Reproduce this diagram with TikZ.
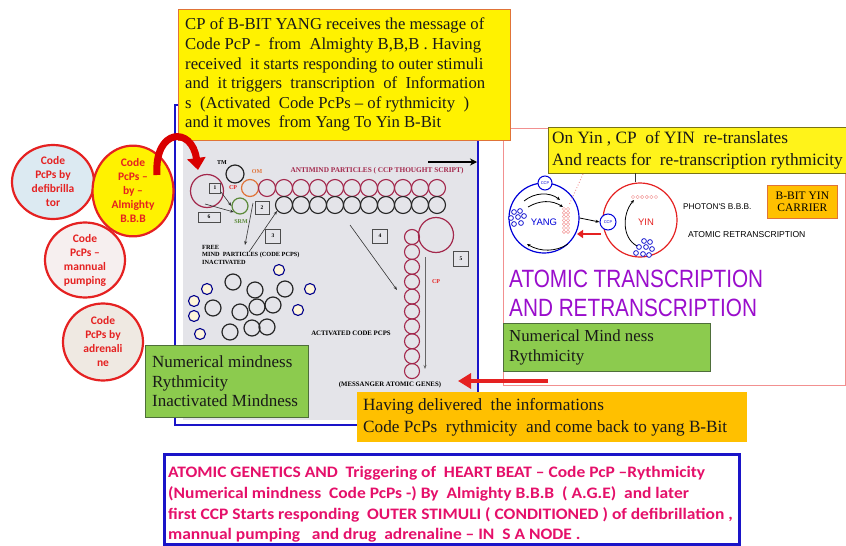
\documentclass[tikz,border=0pt]{standalone}
\usepackage{fontspec}
\usepackage{graphicx}
\setmainfont{Liberation Serif}
\newfontfamily\arialf{Liberation Sans}
\newfontfamily\arialn[FakeStretch=0.83]{Liberation Sans}
\newfontfamily\calib{Carlito}
\newfontfamily\calibw[FakeStretch=1.09]{Carlito}
\usetikzlibrary{arrows.meta,shapes.geometric}
\definecolor{cred}{HTML}{E52121}
\definecolor{fblue}{HTML}{1A14C8}
\definecolor{grayarea}{HTML}{E4E4E9}
\definecolor{maroonc}{HTML}{A3284C}
\definecolor{purp}{HTML}{9A0DCC}
\definecolor{gbox}{HTML}{8CCB4E}
\definecolor{gborder}{HTML}{4E6E3A}
\definecolor{obox}{HTML}{FFC000}
\definecolor{pinkt}{HTML}{E5106A}
\definecolor{pinkb}{HTML}{F29090}
\definecolor{ltblue}{HTML}{DCEAF2}
\definecolor{ltpink}{HTML}{F6EFEF}
\definecolor{beige}{HTML}{EFE9E2}
\definecolor{creamy}{HTML}{FFF6DA}
\definecolor{arrred}{HTML}{D90000}
\definecolor{ombr}{HTML}{E07338}
\definecolor{srmg}{HTML}{5C8A3A}
\tikzset{
  codecirc/.style={ellipse, draw=cred, line width=2.2pt, inner sep=0pt, align=center, text=cred,
    font=\calib\bfseries\fontsize{11.5}{14}\selectfont},
  ybox/.style={draw=ombr, fill=yellow, line width=0.8pt, inner sep=0pt, anchor=north west},
  gboxs/.style={draw=gborder, fill=gbox, line width=0.8pt, inner sep=0pt, anchor=north west},
  oboxs/.style={draw=none, fill=obox, inner sep=0pt, anchor=north west},
  boxtext/.style={anchor=west, align=left, inner sep=0pt, text=black!90},
  numbox/.style={draw=black!70, line width=0.5pt, fill=grayarea, inner sep=0pt,
    font=\fontsize{5.5}{5.5}\selectfont\bfseries},
  tinylbl/.style={font=\fontsize{6}{7}\selectfont\bfseries, inner sep=0pt},
  pring/.style={circle, draw=maroonc, line width=1.1pt, minimum size=17pt, inner sep=0pt},
  bring/.style={circle, draw=black!85, line width=1.1pt, minimum size=17pt, inner sep=0pt},
  sring/.style={circle, draw=blue!55!black, fill=creamy, line width=1.1pt, minimum size=11pt, inner sep=0pt},
  thinarrow/.style={-{Stealth[length=4pt,width=3pt]}, line width=0.6pt, draw=black!80},
  dotc/.style={circle, draw=blue!80!black, fill=white, line width=0.7pt, minimum size=4.8pt, inner sep=0pt},
  pdot/.style={circle, draw=pinkb, line width=0.4pt, minimum size=3.4pt, inner sep=0pt},
  ccpc/.style={circle, draw=blue!85!black, fill=white, line width=1pt, inner sep=0pt,
    text=blue!85!black, font=\arialf\fontsize{4}{4}\selectfont},
}
\begin{document}
\begin{tikzpicture}[x=1pt,y=-1pt]
\useasboundingbox (0,0) rectangle (846,546);
% ---------- central picture ----------
\fill[grayarea] (183,140) rectangle (478,420);
\draw[fblue, line width=2.5pt] (175,105) rectangle (478,425);
% yin-yang frame
\draw[pinkb, line width=1pt, fill=white] (503,128) rectangle (845,385);

% inner picture content
\node[circle, draw=maroonc, line width=1.2pt, minimum size=33pt, inner sep=0pt] (cpc) at (207,191) {};
\node[numbox, minimum width=11pt, minimum height=10pt] (b1) at (215,188) {1};
\node[tinylbl, text=cred] (cplbl) at (233,188) {CP};
\node[tinylbl] (tmlbl) at (222,163) {TM};
\node[circle, draw=black!85, line width=1.2pt, minimum size=18pt, inner sep=0pt] (tm) at (235,174) {};
\node[circle, draw=ombr, line width=1.2pt, minimum size=17pt, inner sep=0pt] (om) at (250,188) {};
\node[tinylbl, text=ombr] (omlbl) at (257,172) {OM};
\foreach \k in {0,...,10} \node[pring] (r\k) at (267+17*\k,188) {};
\foreach \k in {0,...,9} \node[bring] (k\k) at (284+17*\k,205) {};
\node[font=\fontsize{7.3}{8}\selectfont\bfseries, text=maroonc, inner sep=0pt] (antim) at (377,171) {ANTIMIND PARTICLES ( CCP THOUGHT SCRIPT)};
\node[circle, draw=srmg, line width=1.2pt, minimum size=16pt, inner sep=0pt] (srm) at (240,206) {};
\node[tinylbl, text=srmg] (srmlbl) at (241,222) {SRM};
\node[numbox, minimum width=22pt, minimum height=10pt] (b6) at (209,217) {6};
\node[numbox, minimum width=14pt, minimum height=13pt] (b2) at (262,208) {2};
\node[numbox, minimum width=15pt, minimum height=14pt] (b3) at (273,236) {3};
\node[numbox, minimum width=15pt, minimum height=14pt] (b4) at (380,236) {4};
\node[numbox, minimum width=15pt, minimum height=15pt] (b5) at (461,259) {5};
\coordinate (a1s) at (221,192);
\coordinate (a2s) at (205,204);
\draw[thinarrow] (a1s) -- (srm.west);
\draw[thinarrow] (a2s) -- (srm.south west);
\coordinate (f1s) at (253,203);
\coordinate (f1e) at (245,245);
\coordinate (f2s) at (249,252);
\coordinate (f2e) at (277,211);
\draw[thinarrow] (f1s) -- (f1e);
\draw[thinarrow] (f2s) -- (f2e);
\coordinate (g1s) at (350,225);
\coordinate (g1e) at (397,290);
\draw[thinarrow] (g1s) -- (g1e);
\foreach \k in {0,...,9} \node[circle, draw=maroonc, line width=1.1pt, minimum size=15pt, inner sep=0pt] (v\k) at (412,237+14.9*\k) {};
\node[circle, draw=maroonc, line width=1.2pt, minimum size=35pt, inner sep=0pt] (bigv) at (436,235) {};
\coordinate (cps) at (425,257);
\coordinate (cpe) at (425,369);
\draw[-{Stealth[length=4pt,width=3pt]}, line width=0.8pt, draw=black!60] (cps) -- (cpe);
\node[tinylbl, text=cred] (cplbl2) at (436,282) {CP};
\node[font=\fontsize{6.3}{7.5}\selectfont\bfseries, align=left, anchor=north west, inner sep=0pt] (freetxt) at (202,245)
  {FREE\\MIND\ \ PARTICLES (CODE PCPS)\\INACTIVATED};
\node[font=\fontsize{6.8}{7}\selectfont\bfseries, inner sep=0pt] (actv) at (351,333) {ACTIVATED CODE PCPS};
\node[font=\fontsize{6.8}{7}\selectfont\bfseries, inner sep=0pt] (mess) at (390,385) {(MESSANGER ATOMIC GENES)};
% cluster
\foreach \x/\y [count=\i] in {233/282,255/290,285/289,213/308,240/312,257/307,273/305,230/332,252/328,267/327}
  \node[circle, draw=black!85, line width=1.2pt, minimum size=16pt, inner sep=0pt] (cb\i) at (\x,\y) {};
\foreach \x/\y [count=\i] in {279/270,207/289,194/301,194/316,200/334,310/289,298/310}
  \node[sring] (cs\i) at (\x,\y) {};
\coordinate (ts) at (428,162);
\coordinate (te) at (477,162);
\draw[-{Stealth[length=7pt,width=7pt]}, line width=1.6pt] (ts) -- (te);

% ---------- top yellow box ----------
\node[ybox, minimum width=332pt, minimum height=131pt] (topbox) at (178,9) {};
\node[boxtext, font=\fontsize{16.7}{19.6}\selectfont] (toptext) at ([xshift=7pt]topbox.west)
  {CP of B-BIT YANG receives the message of\\
   Code PcP -\ \ from\ \ Almighty B,B,B . Having\\
   received\ \ it starts responding to outer stimuli\\
   and\ \ it triggers\ \ transcription\ \ of\ \ Information\\
   s\ \ (Activated\ \ Code PcPs – of rythmicity\ \ )\\
   and it moves\ \ from Yang To Yin B-Bit};

% ---------- left circles ----------
\node[codecirc, fill=ltblue, minimum width=82pt, minimum height=74pt] (c1) at (53,182) {Code\\PcPs by\\defibrilla\\tor};
\node[codecirc, fill=yellow, minimum width=81pt, minimum height=82pt] (c2) at (133,191) {Code\\PcPs –\\by –\\Almighty\\B.B.B};
\node[codecirc, fill=ltpink, minimum width=80pt, minimum height=75pt] (c3) at (85,260) {Code\\PcPs –\\mannual\\pumping};
\node[codecirc, fill=beige, minimum width=80pt, minimum height=77pt] (c4) at (103,342) {Code\\PcPs by\\adrenali\\ne};
\coordinate (ras) at (157,175);
\coordinate (rae) at (198,170);
\draw[arrred, line width=7pt, -{Triangle[length=12pt,width=18pt]}] (ras) .. controls (154,128) and (192,126) .. (rae);

% ---------- yin / yang ----------
\node[ybox, draw=olive!80!black, fill=yellow!90!white, minimum width=300pt, minimum height=46pt] (yinbox) at (548,127) {};
\node[boxtext, font=\fontsize{17.3}{22}\selectfont] (yintext) at ([xshift=4pt]yinbox.west)
  {On Yin , CP\ \ of YIN\ \ re-translates\\And reacts for\ \ re-transcription rythmicity};
\node[circle, draw=blue!85!black, line width=1.2pt, minimum size=70pt, inner sep=0pt] (yang) at (544,218) {};
\node[circle, draw=cred, line width=1.2pt, minimum size=74pt, inner sep=0pt] (yin) at (640,220) {};
\coordinate (yl) at (635,173);
\draw[black!80, line width=1pt] (yl) -- (yl |- yin.north);
\coordinate (dots1) at (583,174);
\coordinate (dots2) at (569,205);
\draw[pinkb, line width=0.9pt, dotted] (dots1) -- (dots2);
\node[ccpc, minimum size=14pt] (ccp1) at (545,183) {CCP};
\node[ccpc, minimum size=16pt] (ccp2) at (608,222) {CCP};
\node[text=blue!85!black, font=\arialf\fontsize{9.5}{9}\selectfont, inner sep=0pt] (yanglbl) at (544,222) {YANG};
\node[text=cred, font=\arialf\fontsize{9.5}{9}\selectfont, inner sep=0pt] (yinlbl) at (646,222) {YIN};
\foreach \dx/\dy [count=\i] in {-4/-6,2/-7,-7/0,0/-1,6/-2,-4/6,3/5}
  \node[dotc] (yd\i) at (518+\dx,218+\dy) {};
\foreach \dx/\dy [count=\i] in {2/-7,8/-6,-3/-1,4/-1,10/1,-6/5,1/6,7/7}
  \node[dotc] (nd\i) at (642+\dx,248+\dy) {};
\foreach \c in {0,1} \foreach \r in {0,...,6}
  \node[pdot] (pc\c\r) at (564+4*\c,209+3.8*\r) {};
\foreach \c in {0,...,5} \node[pdot] (pr\c) at (633+4.6*\c,197) {};
\draw[-{Stealth[length=4pt,width=3pt]}, line width=0.8pt] (yang.east) -- (ccp2.west);
\coordinate (rra) at (601,234);
\coordinate (rrb) at (577,234);
\draw[cred, line width=2.4pt, -{Triangle[length=6pt,width=8pt]}] (rra) -- (rrb);
\coordinate (ya1) at (524,201); \coordinate (ya2) at (560,200);
\coordinate (yb1) at (528,207); \coordinate (yb2) at (563,207);
\coordinate (yc1) at (568,244); \coordinate (yc2) at (527,244);
\coordinate (yi1) at (637,246); \coordinate (yi2) at (634,200);
\draw[-{Stealth[length=3.5pt,width=3pt]}, line width=0.8pt] (ya1) .. controls (535,192) and (550,192) .. (ya2);
\draw[-{Stealth[length=3.5pt,width=3pt]}, line width=0.8pt] (yb1) .. controls (540,200) and (552,200) .. (yb2);
\draw[-{Stealth[length=3.5pt,width=3pt]}, line width=0.8pt] (yc1) .. controls (556,252) and (540,252) .. (yc2);
\draw[-{Stealth[length=3.5pt,width=3pt]}, line width=0.8pt] (yi1) .. controls (622,238) and (622,214) .. (yi2);
\node[font=\arialf\fontsize{8.3}{9}\selectfont, inner sep=0pt, anchor=west] (photon) at (683,207) {PHOTON'S B.B.B.};
\node[font=\arialf\fontsize{8.6}{9}\selectfont, inner sep=0pt, anchor=west] (atret) at (688,235) {ATOMIC RETRANSCRIPTION};
\node[draw=ombr, fill=obox, line width=0.8pt, minimum width=70pt, minimum height=33pt, inner sep=0pt, align=center,
  font=\fontsize{11.5}{12.5}\selectfont, anchor=north west] (carrier) at (767,185) {B-BIT YIN\\CARRIER};
\node[anchor=west, inner sep=0pt, text=purp, font=\arialn\fontsize{25}{28}\selectfont] (att1) at (509,279) {ATOMIC TRANSCRIPTION};
\node[anchor=west, inner sep=0pt, text=purp, font=\arialn\fontsize{25}{28}\selectfont] (att2) at (509,308) {AND RETRANSCRIPTION};

% ---------- green / orange boxes ----------
\node[gboxs, minimum width=207pt, minimum height=48pt] (gright) at (503,323) {};
\node[boxtext, font=\fontsize{16.8}{20}\selectfont] (grtext) at ([xshift=6pt]gright.west)
  {Numerical Mind ness\\Rythmicity};
\node[gboxs, minimum width=163pt, minimum height=72pt] (gleft) at (145,345) {};
\node[boxtext, font=\fontsize{17}{19.5}\selectfont] (gltext) at ([xshift=7pt]gleft.west)
  {Numerical mindness\\Rythmicity\\Inactivated Mindness};
\node[oboxs, minimum width=390pt, minimum height=50pt] (obx) at (357,392) {};
\node[boxtext, font=\fontsize{17.2}{22}\selectfont] (otext) at ([xshift=6pt]obx.west)
  {Having delivered\ \ the informations\\Code PcPs\ \ rythmicity\ \ and come back to yang B-Bit};
\coordinate (bra) at (548,381);
\coordinate (brb) at (458,381);
\draw[cred, line width=4pt, -{Triangle[length=13pt,width=15pt]}] (bra) -- (brb);

% ---------- bottom box ----------
\node[draw=fblue, line width=3pt, fill=white, minimum width=575pt, minimum height=90pt, anchor=north west, inner sep=0pt] (botbox) at (163,453) {};
\node[boxtext, text=pinkt, font=\calibw\bfseries\fontsize{16}{20.6}\selectfont] (bottext) at ([xshift=5pt, yshift=-5pt]botbox.west)
  {ATOMIC GENETICS AND\ \ Triggering of\ \ HEART BEAT – Code PcP –Rythmicity\\
   (Numerical mindness\ \ Code PcPs -) By\ \ Almighty B.B.B\ \ ( A.G.E)\ \ and later\\
   first CCP Starts responding\ \ OUTER STIMULI ( CONDITIONED ) of defibrillation ,\\
   mannual pumping\ \ \ and drug\ \ adrenaline – IN\ \ S A NODE .};
\end{tikzpicture}
\end{document}
